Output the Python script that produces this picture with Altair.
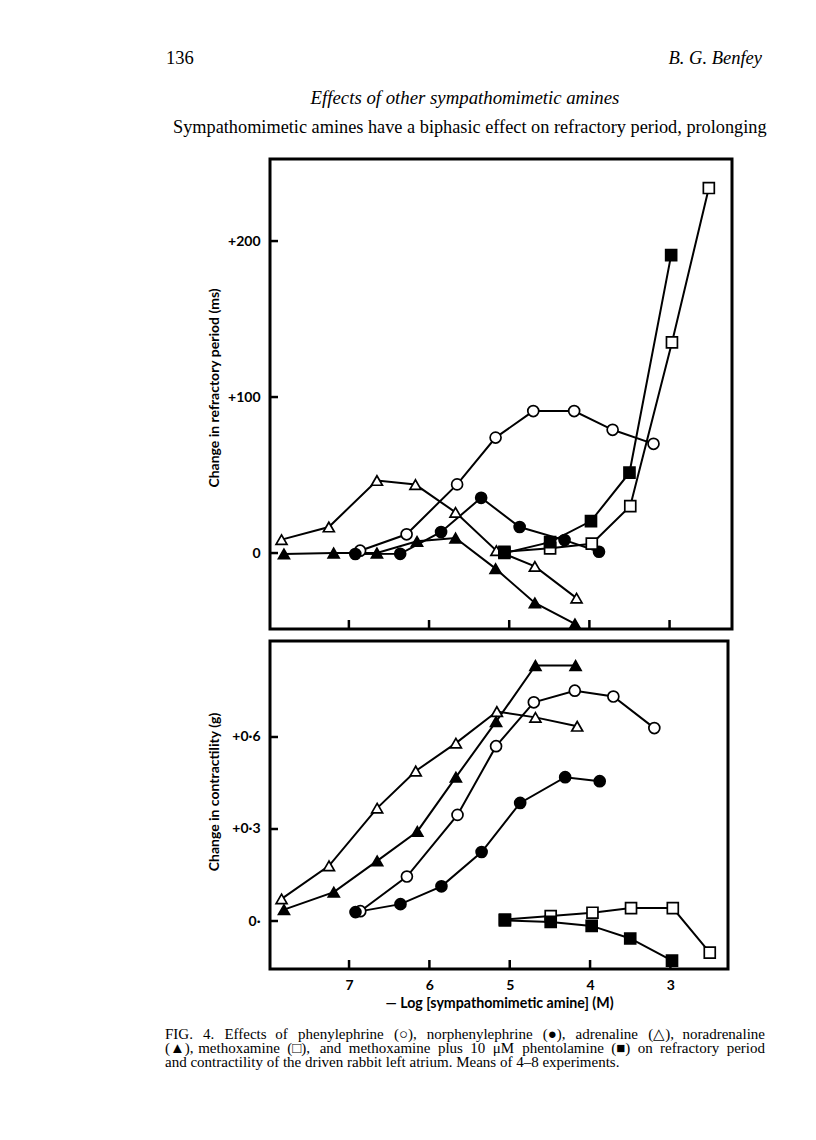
import altair as alt
import pandas as pd

# ---- data (x = -log10 [amine] (M)) ----
phe_x = [6.86, 6.28, 5.65, 5.17, 4.70, 4.19, 3.71, 3.20]
phe_rp = [1.5, 12, 44, 74, 91, 91, 79, 70]
phe_ct = [0.032, 0.145, 0.346, 0.570, 0.713, 0.751, 0.732, 0.629]

nph_x = [6.92, 6.36, 5.85, 5.35, 4.87, 4.31, 3.88]
nph_rp = [-0.6, -0.5, 13.5, 35.4, 16.7, 8.3, 0.8]
nph_ct = [0.029, 0.055, 0.113, 0.225, 0.385, 0.469, 0.456]

adr_x = [7.84, 7.25, 6.65, 6.17, 5.67, 5.16, 4.68, 4.16]
adr_rp = [8.6, 16.7, 46.5, 43.9, 26.1, 1.5, -8.6, -28.9]
adr_ct = [0.072, 0.180, 0.368, 0.489, 0.580, 0.683, 0.664, 0.635]

nad_x = [7.81, 7.19, 6.65, 6.15, 5.67, 5.17, 4.68, 4.18]
nad_rp = [-0.6, 0, 0, 7.5, 9.6, -10, -32, -45.4]
nad_ct = [0.037, 0.094, 0.196, 0.292, 0.469, 0.650, 0.833, 0.833]

met_x = [5.06, 4.49, 3.97, 3.49, 2.97, 2.51]
met_rp = [0.8, 3.0, 6.0, 30.1, 135, 234]
met_ct = [0.005, 0.016, 0.027, 0.042, 0.042, -0.103]

mph_x = [5.06, 4.49, 3.98, 3.50, 2.98]
mph_rp = [0, 7, 20.5, 51.5, 191]
mph_ct = [0.002, -0.003, -0.016, -0.057, -0.129]

names = ["phenylephrine", "norphenylephrine", "adrenaline",
         "noradrenaline", "methoxamine", "methoxamine + phentolamine"]
shapes = ["circle", "circle", "triangle-up", "triangle-up", "square", "square"]
fills = ["white", "black", "white", "black", "white", "black"]
sizes = [120, 120, 130, 130, 100, 100]

xs = [phe_x, nph_x, adr_x, nad_x, met_x, mph_x]
rps = [phe_rp, nph_rp, adr_rp, nad_rp, met_rp, mph_rp]
cts = [phe_ct, nph_ct, adr_ct, nad_ct, met_ct, mph_ct]

x_ticks = [7, 6, 5, 4, 3]
rp_ticks = [0, 100, 200]
ct_ticks = [0, 0.3, 0.6]

header_left = "136"
header_right = "B. G. Benfey"
section = "Effects of other sympathomimetic amines"
body_line = "Sympathomimetic amines have a biphasic effect on refractory period, prolonging"
cap1 = "FIG. 4.  Effects of phenylephrine (○), norphenylephrine (●), adrenaline (△), noradrenaline"
cap2 = "(▲), methoxamine (□), and methoxamine plus 10 μM phentolamine (■) on refractory period"
cap3 = "and contractility of the driven rabbit left atrium.  Means of 4–8 experiments."
x_title = "— Log [sympathomimetic amine] (M)"
y_title_top = "Change in refractory period (ms)"
y_title_bot = "Change in contractility (g)"


def long_df(vals):
    rows = []
    for n, xx, yy in zip(names, xs, vals):
        for i, (a, b) in enumerate(zip(xx, yy)):
            rows.append({"series": n, "x": a, "y": b, "i": i})
    return pd.DataFrame(rows)


df_top = long_df(rps)
df_bot = long_df(cts)

SERIF = "Liberation Serif"
SANS = "Lato"

shape_enc = alt.Shape("series:N", scale=alt.Scale(domain=names, range=shapes), legend=None)
fill_enc = alt.Fill("series:N", scale=alt.Scale(domain=names, range=fills), legend=None)
size_enc = alt.Size("series:N", scale=alt.Scale(domain=names, range=sizes), legend=None)


def text_mark(txt, x, y, size, align="left", style="normal", font=SERIF,
              weight="normal", angle=0):
    return alt.Chart(pd.DataFrame({"t": [txt]})).mark_text(
        align=align, baseline="middle", font=font, fontSize=size,
        fontStyle=style, fontWeight=weight, color="black", angle=angle
    ).encode(text="t:N", x=alt.value(x), y=alt.value(y))


# approximate Times advance widths (1/1000 em) used only to justify caption lines
_W = dict(a=444, b=500, c=444, d=500, e=444, f=333, g=500, h=500, i=278, j=278,
          k=500, l=278, m=778, n=500, o=500, p=500, q=500, r=333, s=389, t=278,
          u=500, v=500, w=722, x=500, y=500, z=444)
_W.update({"(": 333, ")": 333, ",": 250, ".": 250, "–": 500, "μ": 576,
           "F": 556, "I": 333, "G": 722, "M": 889, "○": 600, "●": 600,
           "△": 700, "▲": 800, "□": 750, "■": 600})


def tw(s, fs):
    return sum(_W.get(ch, 500) for ch in s) * fs / 1000.0


def justified(line, x0, x1, y, fs):
    words = line.split()
    total = sum(tw(w, fs) for w in words)
    gap = (x1 - x0 - total) / (len(words) - 1)
    marks, x = [], x0
    for w in words:
        marks.append(text_mark(w, x, y, fs))
        x += tw(w, fs) + gap
    return marks


def panel(df, W, H, xdom, ydom, yticks, ylabel_expr, show_x_axis, extras):
    xs_ = alt.Scale(domain=xdom, reverse=True, nice=False, zero=False)
    ys_ = alt.Scale(domain=ydom, nice=False, zero=False)
    if show_x_axis:
        xaxis = alt.Axis(values=x_ticks, format="d", ticks=False, domain=False,
                         grid=False, labelPadding=9, labelFont=SANS,
                         labelFontWeight="bold", labelFontSize=14,
                         labelColor="black", title=x_title, titleFont=SANS,
                         titleFontWeight="bold", titleFontSize=14.2,
                         titleColor="black", titlePadding=4)
    else:
        xaxis = None
    yaxis = alt.Axis(values=yticks, labelExpr=ylabel_expr, ticks=False,
                     domain=False, grid=False, labelPadding=10, labelFont=SANS,
                     labelFontWeight="bold", labelFontSize=14,
                     labelColor="black", title=None)
    base = alt.Chart(df)
    lines = base.mark_line(color="black", strokeWidth=2).encode(
        x=alt.X("x:Q", scale=xs_, axis=xaxis),
        y=alt.Y("y:Q", scale=ys_, axis=yaxis),
        detail="series:N", order="i:Q")
    pts = base.mark_point(filled=True, stroke="black", strokeWidth=1.7,
                          opacity=1).encode(
        x=alt.X("x:Q", scale=xs_), y=alt.Y("y:Q", scale=ys_),
        shape=shape_enc, fill=fill_enc, size=size_enc)
    xt = alt.Chart(pd.DataFrame({"v": x_ticks})).mark_rule(
        color="black", strokeWidth=2.5).encode(
        x=alt.X("v:Q", scale=xs_), y=alt.value(H), y2=alt.value(H - 9))
    yt = alt.Chart(pd.DataFrame({"v": yticks})).mark_rule(
        color="black", strokeWidth=2.5).encode(
        y=alt.Y("v:Q", scale=ys_), x=alt.value(0), x2=alt.value(8))
    return alt.layer(lines, pts, xt, yt, *extras).properties(
        width=W, height=H,
        view=alt.ViewBackground(stroke="black", strokeWidth=3))


OX = 268  # page x of the plot origin
top_extras = [
    text_mark(header_left, 164 - OX, -101, 18.5),
    text_mark(header_right, 760 - OX, -101, 18.5, align="right", style="italic"),
    text_mark(section, 463 - OX, -61, 18.8, align="center", style="italic"),
    text_mark(body_line, 171 - OX, -31, 18.3),
    text_mark(y_title_top, -55, 229, 14, align="center", font=SANS,
              weight="bold", angle=270),
]
CY = 393
cap_fs = 15
bot_extras = (
    [text_mark(y_title_bot, -55, 151, 14, align="center", font=SANS,
               weight="bold", angle=270)]
    + justified(cap1, 163 - OX, 763 - OX, CY, cap_fs)
    + justified(cap2, 163 - OX, 763 - OX, CY + 14, cap_fs)
    + [text_mark(cap3, 163 - OX, CY + 28, cap_fs)]
)

top = panel(df_top, 462, 470, [2.221, 7.984], [-48.7, 252.6], rp_ticks,
            "datum.value > 0 ? '+' + datum.value : '0'", False, top_extras)
bot = panel(df_bot, 458, 328, [2.283, 7.984], [-0.1565, 0.913], ct_ticks,
            "datum.value > 0 ? '+' + replace(format(datum.value, '.1f'), '.', '·') : '0·'",
            True, bot_extras)

chart = alt.vconcat(top, bot, spacing=5).properties(
    padding={"left": 155, "top": 39, "right": 5, "bottom": 5},
    background="white",
).configure_view(stroke=None)

chart.save("out.html", embed_options={"renderer": "svg", "actions": False})
